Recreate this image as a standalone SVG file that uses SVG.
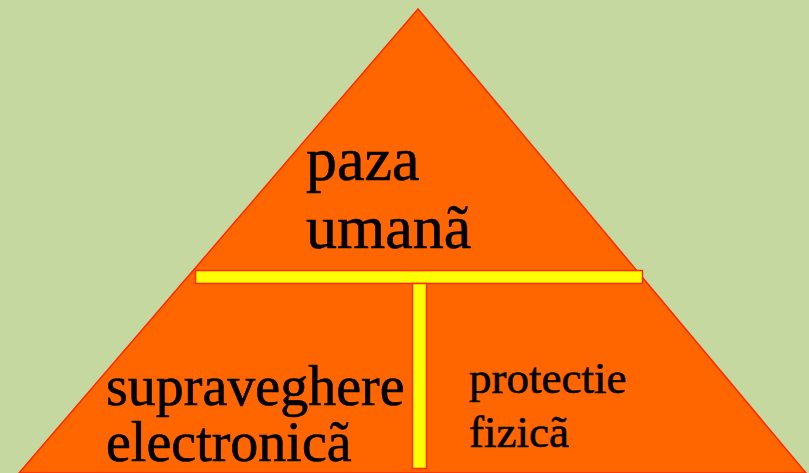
<svg xmlns="http://www.w3.org/2000/svg" width="809" height="473" viewBox="0 0 809 473">
<style>
.t{font-family:"Liberation Serif","Times New Roman",serif;fill:#000;stroke:#000;stroke-width:0.6}
.bar{fill:#ffff00;stroke:#ff2a00;stroke-width:1.5}
</style>
<rect width="809" height="473" fill="#c5d8a0"/>
<g id="pyramid">
<polygon points="418,9 19,473 806,473" fill="#ff6600" stroke="#ff2a00" stroke-width="1.5"/>
</g>
<g id="connectors">
<rect class="bar" x="195.5" y="270.5" width="447" height="13"/>
<rect class="bar" x="412.5" y="283.5" width="14" height="185"/>
</g>
<g id="node-paza">
<text class="t" x="306" y="180" font-size="62">paza</text>
<text class="t" x="306" y="248" font-size="62">umanã</text>
</g>
<g id="node-supraveghere">
<text class="t" x="106" y="405" font-size="56">supraveghere</text>
<text class="t" x="106" y="461" font-size="56">electronicã</text>
</g>
<g id="node-protectie">
<text class="t" x="469" y="393" font-size="45">protectie</text>
<text class="t" x="469" y="447" font-size="45">fizicã</text>
</g>
</svg>
